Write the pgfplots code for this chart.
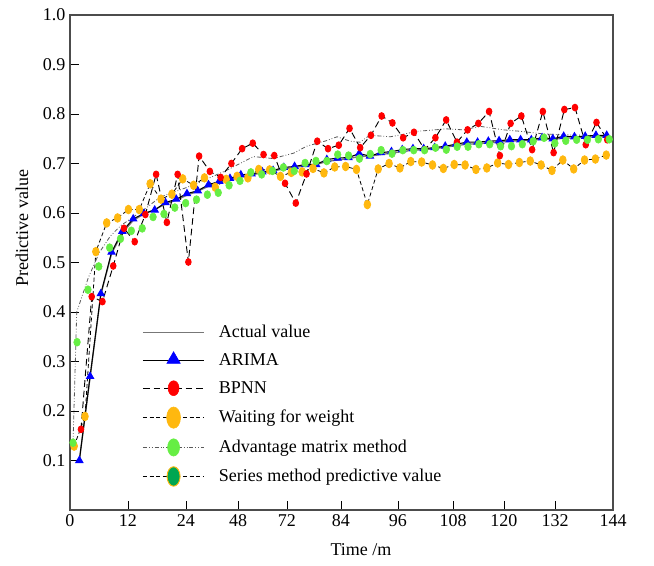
\documentclass[border=0pt]{standalone}
\usepackage{fontspec}
\setmainfont{Liberation Serif}
\usepackage{pgfplots}
\usepackage{pgfplotstable}
\usetikzlibrary{calc}
\pgfplotsset{compat=1.18}

\definecolor{bpred}{HTML}{FF0000}
\definecolor{arblue}{HTML}{0000FF}
\definecolor{wworange}{HTML}{FFB80F}
\definecolor{amgreen}{HTML}{66EE44}
\definecolor{smgreen}{HTML}{00A651}
\definecolor{actgray}{HTML}{777777}
\newcommand{\lblfont}{\fontsize{13.5}{16}\selectfont}

% x = time step index (axis 0..50), y = predictive value
\pgfplotstableread{
x y
0.86 0.100
1.85 0.268
2.84 0.435
3.83 0.518
4.82 0.560
5.82 0.585
6.81 0.598
7.80 0.607
8.79 0.618
9.78 0.626
10.77 0.636
11.76 0.644
12.75 0.654
13.74 0.661
14.73 0.667
15.73 0.673
16.72 0.677
17.71 0.681
18.70 0.685
19.69 0.689
20.68 0.692
21.67 0.695
22.66 0.698
23.65 0.704
24.64 0.707
25.64 0.710
26.63 0.714
27.62 0.715
28.61 0.718
29.60 0.721
30.59 0.724
31.58 0.727
32.57 0.728
33.56 0.730
34.55 0.733
35.55 0.736
36.54 0.739
37.53 0.740
38.52 0.742
39.51 0.743
40.50 0.745
41.49 0.746
42.48 0.747
43.47 0.749
44.46 0.749
45.46 0.751
46.45 0.752
47.44 0.753
48.43 0.754
49.42 0.755
}\actual

\pgfplotstableread{
x y
0.86 0.100
1.85 0.270
2.84 0.437
3.83 0.521
4.82 0.563
5.82 0.588
6.81 0.599
7.80 0.606
8.79 0.621
9.78 0.628
10.77 0.639
11.76 0.645
12.75 0.657
13.74 0.664
14.73 0.670
15.73 0.677
16.72 0.679
17.71 0.683
18.70 0.686
19.69 0.692
20.68 0.694
21.67 0.698
22.66 0.698
23.65 0.708
24.64 0.711
25.64 0.712
26.63 0.720
27.62 0.715
28.61 0.722
29.60 0.724
30.59 0.728
31.58 0.730
32.57 0.730
33.56 0.732
34.55 0.735
35.55 0.739
36.54 0.743
37.53 0.743
38.52 0.745
39.51 0.746
40.50 0.748
41.49 0.748
42.48 0.748
43.47 0.752
44.46 0.750
45.46 0.755
46.45 0.754
47.44 0.755
48.43 0.757
49.42 0.757
}\arima

\pgfplotstableread{
x y
1.01 0.163
2.00 0.431
2.99 0.421
3.98 0.493
4.97 0.569
5.96 0.542
6.94 0.597
7.93 0.678
8.92 0.581
9.91 0.678
10.90 0.501
11.89 0.715
12.88 0.684
13.87 0.672
14.86 0.700
15.85 0.730
16.83 0.741
17.82 0.718
18.81 0.716
19.80 0.660
20.79 0.620
21.78 0.679
22.77 0.745
23.76 0.730
24.75 0.737
25.74 0.771
26.72 0.732
27.71 0.757
28.70 0.796
29.69 0.782
30.68 0.752
31.67 0.763
32.66 0.728
33.65 0.752
34.64 0.788
35.63 0.743
36.61 0.768
37.60 0.781
38.59 0.805
39.58 0.716
40.57 0.781
41.56 0.796
42.55 0.728
43.54 0.805
44.53 0.722
45.52 0.809
46.50 0.813
47.49 0.738
48.48 0.783
49.47 0.748
}\bpnn

\pgfplotstableread{
x y
0.38 0.129
1.38 0.189
2.38 0.522
3.38 0.580
4.38 0.590
5.38 0.607
6.38 0.607
7.38 0.659
8.38 0.628
9.38 0.638
10.38 0.669
11.38 0.656
12.38 0.671
13.38 0.652
14.38 0.668
15.38 0.674
16.38 0.671
17.38 0.688
18.38 0.687
19.38 0.674
20.38 0.682
21.38 0.683
22.38 0.690
23.38 0.681
24.38 0.693
25.38 0.694
26.38 0.688
27.38 0.617
28.38 0.689
29.38 0.700
30.38 0.691
31.38 0.704
32.38 0.703
33.38 0.697
34.38 0.690
35.38 0.698
36.38 0.697
37.38 0.688
38.38 0.691
39.38 0.701
40.38 0.698
41.38 0.702
42.38 0.705
43.38 0.697
44.38 0.686
45.38 0.707
46.38 0.689
47.38 0.707
48.38 0.709
49.38 0.717
}\wfw

\pgfplotstableread{
x y
0.28 0.136
0.65 0.339
1.65 0.445
2.65 0.492
3.65 0.530
4.65 0.548
5.65 0.564
6.65 0.569
7.65 0.592
8.65 0.598
9.65 0.611
10.65 0.620
11.65 0.627
12.65 0.637
13.65 0.641
14.65 0.656
15.65 0.665
16.65 0.682
17.65 0.678
18.65 0.685
19.65 0.692
20.65 0.685
21.65 0.701
22.65 0.705
23.65 0.705
24.65 0.718
25.65 0.716
26.65 0.710
27.65 0.719
28.65 0.727
29.65 0.720
30.65 0.727
31.65 0.727
32.65 0.727
33.65 0.732
34.65 0.728
35.65 0.734
36.65 0.734
37.65 0.739
38.65 0.739
39.65 0.735
40.65 0.735
41.65 0.739
42.65 0.745
43.65 0.752
44.65 0.741
45.65 0.746
46.65 0.748
47.65 0.748
48.65 0.749
49.65 0.749
}\adv

\pgfplotstableread{
x y
0.28 0.136
0.62 0.400
1.7 0.470
2.7 0.520
3.7 0.553
4.7 0.575
5.7 0.590
6.7 0.605
8.3 0.632
11.3 0.656
14.4 0.686
16.9 0.714
18.7 0.710
20.6 0.721
21.8 0.735
23.6 0.746
24.6 0.754
25.8 0.745
26.7 0.743
27.6 0.757
29.5 0.754
30.7 0.759
31.9 0.765
33.1 0.767
34.7 0.770
36.2 0.768
37.8 0.775
39.9 0.768
41.5 0.765
43.5 0.760
45.5 0.758
47.5 0.757
49.4 0.755
}\dashdot

\begin{document}
\begin{tikzpicture}
\begin{axis}[
  scale only axis, width=407.25pt, height=371.25pt,
  xmin=0, xmax=50, ymin=0, ymax=1,
  xtick={0,5.34,10.68,15.47,19.98,24.95,30.2,35.27,39.96,44.66,50},
  xticklabels={0,12,24,48,72,84,96,108,120,132,144},
  ytick={0.1,0.2,0.3,0.4,0.5,0.6,0.7,0.8,0.9,1.0},
  yticklabel style={/pgf/number format/.cd,fixed,fixed zerofill,precision=1},
  /pgf/number format/assume math mode=true,
  tick align=inside, xtick pos=bottom, ytick pos=left,
  major tick length=6.5pt,
  tick style={black, line width=0.6pt},
  axis line style={draw=black!70, line width=1.1pt},
  ticklabel style={font=\lblfont},
  label style={font=\lblfont},
  xlabel={Time /m}, ylabel={Predictive value},
  xlabel style={at={(axis description cs:0.536,-0.058)}, anchor=north},
  ylabel style={at={(axis description cs:-0.068,0.57)}, anchor=south},
  legend style={at={(axis cs:6.26,0.383)}, anchor=north west, draw=none, fill=none,
    font=\lblfont, row sep=7.2pt, nodes={inner sep=1.5pt},
    /tikz/every odd column/.append style={column sep=9pt}},
  legend cell align=left,
]
\addplot[actgray, line width=1pt, forget plot] table[x=x,y=y] {\actual};
\addplot[black!65, line width=0.6pt, dash pattern=on 3pt off 1.5pt on 0.6pt off 1.5pt on 0.6pt off 1.5pt, forget plot] table[x=x,y=y] {\dashdot};
\addplot[black, line width=0.8pt, mark=triangle*, mark size=3pt,
  mark options={fill=arblue, draw=arblue, solid}, forget plot] table[x=x,y=y] {\arima};
\addplot[black, line width=0.6pt, dash pattern=on 3pt off 2pt, mark=*, mark size=2.5pt,
  mark options={fill=wworange, draw=wworange, solid, yscale=1.3}, forget plot] table[x=x,y=y] {\wfw};
\addplot[black, line width=0.7pt, dash pattern=on 5pt off 3pt, mark=*, mark size=2.1pt,
  mark options={fill=bpred, draw=bpred, solid, yscale=1.2}, forget plot] table[x=x,y=y] {\bpnn};
\addplot[only marks, mark=*, mark size=2.5pt,
  mark options={fill=amgreen, draw=amgreen, yscale=1.2}, forget plot] table[x=x,y=y] {\adv};

\addlegendimage{legend image code/.code={\draw[actgray, line width=1pt] (0pt,0pt) -- (46pt,0pt);}}
\addlegendimage{legend image code/.code={\draw[black, line width=0.8pt] (0pt,0pt) -- (46pt,0pt);
  \fill[arblue] (23pt,1pt) +(90:5.8pt) -- +(210:5.8pt) -- +(330:5.8pt) -- cycle;}}
\addlegendimage{legend image code/.code={\draw[black, line width=0.7pt, dash pattern=on 5pt off 3pt] (0pt,0pt) -- (46pt,0pt);
  \fill[bpred] (23pt,0pt) ellipse (4.1pt and 5.6pt);}}
\addlegendimage{legend image code/.code={\draw[black, line width=0.6pt, dash pattern=on 3pt off 2pt] (0pt,0pt) -- (46pt,0pt);
  \fill[wworange] (23pt,0pt) ellipse (5.2pt and 8pt);}}
\addlegendimage{legend image code/.code={\draw[black!65, line width=0.6pt, dash pattern=on 3pt off 1.5pt on 0.6pt off 1.5pt on 0.6pt off 1.5pt] (0pt,0pt) -- (46pt,0pt);
  \fill[amgreen] (23pt,0pt) ellipse (4.5pt and 6.5pt);}}
\addlegendimage{legend image code/.code={\draw[black, line width=0.6pt, dash pattern=on 3pt off 2pt] (0pt,0pt) -- (46pt,0pt);
  \filldraw[fill=smgreen, draw=wworange, line width=0.7pt] (23pt,0pt) ellipse (4.9pt and 7.3pt);}}
\legend{Actual value, ARIMA, BPNN, Waiting for weight, Advantage matrix method, Series method predictive value}
\end{axis}
\pgfresetboundingbox
\path ($(current axis.south west)+(-52.5pt,-41.25pt)$) rectangle ($(current axis.north east)+(30.75pt,11.25pt)$);
\end{tikzpicture}
\end{document}
